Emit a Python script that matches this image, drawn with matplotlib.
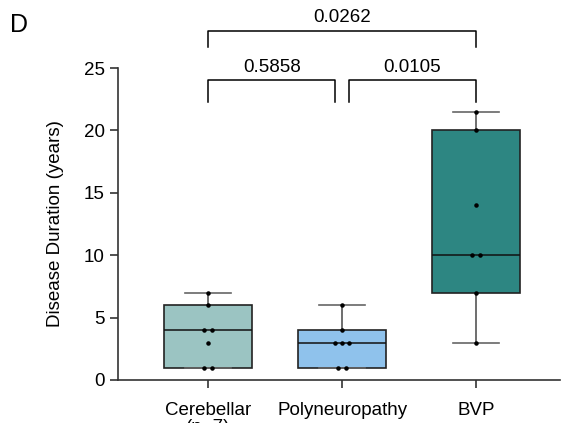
import numpy as np
import matplotlib
matplotlib.use('Agg')
import matplotlib.pyplot as plt

plt.rcParams['font.family'] = ['Liberation Sans', 'DejaVu Sans']

# Data
groups = ['Cerebellar\n(n=7)', 'Polyneuropathy', 'BVP']
cerebellar = [1, 1, 3, 4, 4, 6, 7]
polyneuropathy = [1, 1, 3, 3, 3, 4, 6]
bvp = [3, 7, 10, 10, 14, 20, 21.5]
colors = ['#9bc4c2', '#8fc2ec', '#2d8682']
pvalues = ['0.5858', '0.0105', '0.0262']

datasets = [cerebellar, polyneuropathy, bvp]

fig = plt.figure(figsize=(5.64, 4.23), dpi=100)
ax = fig.add_axes([0.2092, 0.1017, 0.784, 0.7375])

# box stats, quartiles like Prism (n+1 method), whiskers min to max
stats = []
for d, name in zip(datasets, groups):
    d = np.array(d, dtype=float)
    q1, med, q3 = np.percentile(d, [25, 50, 75], method='weibull')
    stats.append(dict(med=med, q1=q1, q3=q3, whislo=d.min(), whishi=d.max(),
                      fliers=[], label=name))

pos = np.arange(len(datasets))
bp = ax.bxp(stats, positions=pos, widths=0.66, patch_artist=True,
            showfliers=False,
            boxprops=dict(edgecolor='#222222', linewidth=1.2),
            medianprops=dict(color='#111111', linewidth=1.1),
            whiskerprops=dict(color='#555555', linewidth=1.2),
            capprops=dict(color='#666666', linewidth=1.2),
            capwidths=0.34)
for patch, c in zip(bp['boxes'], colors):
    patch.set_facecolor(c)

# points, ties spread sideways
for i, d in enumerate(datasets):
    vals, counts = np.unique(d, return_counts=True)
    for v, k in zip(vals, counts):
        offs = (np.arange(k) - (k - 1) / 2) * 0.055
        ax.scatter(i + offs, [v] * k, s=5, color='black', zorder=3)

ax.set_xlim(-0.672, 2.627)
ax.set_ylim(0, 25)
ax.set_yticks([0, 5, 10, 15, 20, 25])
ax.set_ylabel('Disease Duration (years)', fontsize=13.5, labelpad=14)
ax.tick_params(axis='both', labelsize=13.5, length=6, width=1.2, color='#333333')
ax.tick_params(axis='x', pad=10)
for lab in ax.get_xticklabels():
    lab.set_linespacing(0.95)
ax.spines['top'].set_visible(False)
ax.spines['right'].set_visible(False)
for s in ['left', 'bottom']:
    ax.spines[s].set_linewidth(1.2)
    ax.spines[s].set_color('#333333')

# significance brackets
def bracket(x1, x2, y0, y1, text):
    ax.plot([x1, x1, x2, x2], [y0, y1, y1, y0], color='black', lw=1.1,
            clip_on=False)
    ax.text((x1 + x2) / 2, y1 + 0.4, text, ha='center', va='bottom',
            fontsize=13.5)

bracket(0, 0.95, 22.3, 24.0, pvalues[0])
bracket(1.05, 2, 22.3, 24.0, pvalues[1])
bracket(0, 2, 26.7, 28.0, pvalues[2])

fig.text(0.017, 0.94, 'D', fontsize=18, ha='left', va='center')

fig.savefig('out.png', dpi=100)
